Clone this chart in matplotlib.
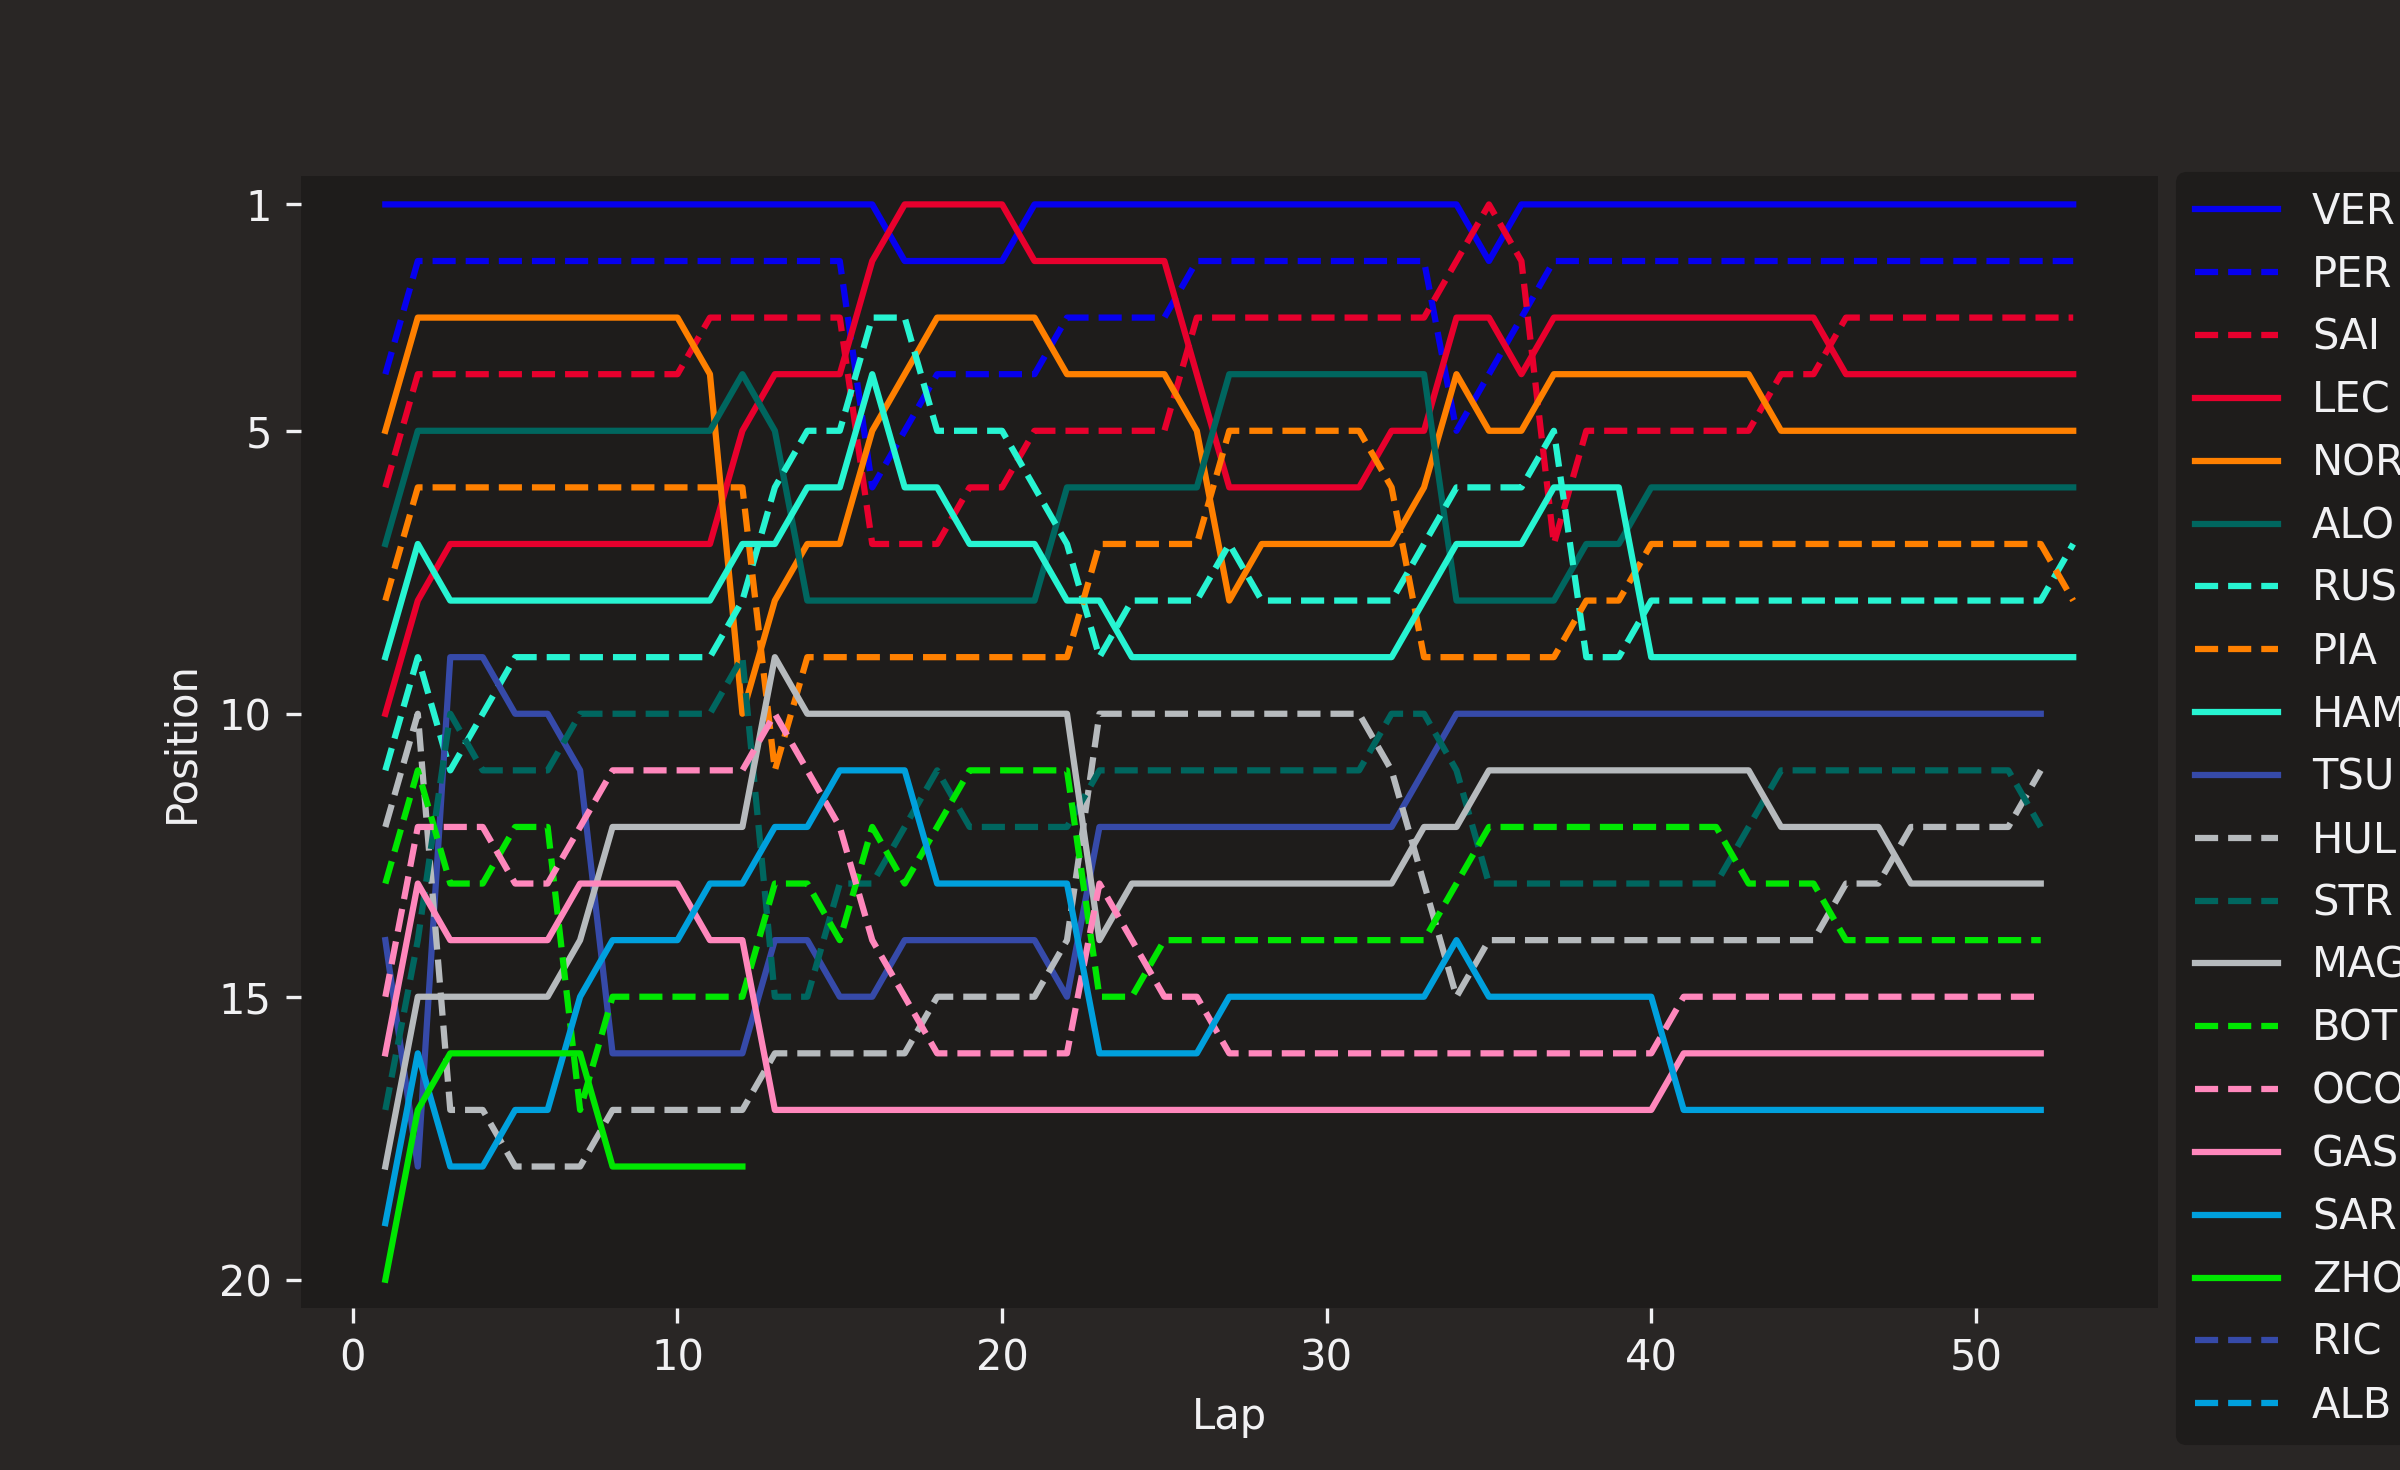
import numpy as np
import matplotlib
matplotlib.use("Agg")
import matplotlib.pyplot as plt

# finishing positions per lap (lap 1 first)
VER = [1, 1, 1, 1, 1, 1, 1, 1, 1, 1,
       1, 1, 1, 1, 1, 1, 2, 2, 2, 2,
       1, 1, 1, 1, 1, 1, 1, 1, 1, 1,
       1, 1, 1, 1, 2, 1, 1, 1, 1, 1,
       1, 1, 1, 1, 1, 1, 1, 1, 1, 1,
       1, 1, 1]
PER = [4, 2, 2, 2, 2, 2, 2, 2, 2, 2,
       2, 2, 2, 2, 2, 6, 5, 4, 4, 4,
       4, 3, 3, 3, 3, 2, 2, 2, 2, 2,
       2, 2, 2, 5, 4, 3, 2, 2, 2, 2,
       2, 2, 2, 2, 2, 2, 2, 2, 2, 2,
       2, 2, 2]
SAI = [6, 4, 4, 4, 4, 4, 4, 4, 4, 4,
       3, 3, 3, 3, 3, 7, 7, 7, 6, 6,
       5, 5, 5, 5, 5, 3, 3, 3, 3, 3,
       3, 3, 3, 2, 1, 2, 7, 5, 5, 5,
       5, 5, 5, 4, 4, 3, 3, 3, 3, 3,
       3, 3, 3]
LEC = [10, 8, 7, 7, 7, 7, 7, 7, 7, 7,
       7, 5, 4, 4, 4, 2, 1, 1, 1, 1,
       2, 2, 2, 2, 2, 4, 6, 6, 6, 6,
       6, 5, 5, 3, 3, 4, 3, 3, 3, 3,
       3, 3, 3, 3, 3, 4, 4, 4, 4, 4,
       4, 4, 4]
NOR = [5, 3, 3, 3, 3, 3, 3, 3, 3, 3,
       4, 10, 8, 7, 7, 5, 4, 3, 3, 3,
       3, 4, 4, 4, 4, 5, 8, 7, 7, 7,
       7, 7, 6, 4, 5, 5, 4, 4, 4, 4,
       4, 4, 4, 5, 5, 5, 5, 5, 5, 5,
       5, 5, 5]
ALO = [7, 5, 5, 5, 5, 5, 5, 5, 5, 5,
       5, 4, 5, 8, 8, 8, 8, 8, 8, 8,
       8, 6, 6, 6, 6, 6, 4, 4, 4, 4,
       4, 4, 4, 8, 8, 8, 8, 7, 7, 6,
       6, 6, 6, 6, 6, 6, 6, 6, 6, 6,
       6, 6, 6]
RUS = [11, 9, 11, 10, 9, 9, 9, 9, 9, 9,
       9, 8, 6, 5, 5, 3, 3, 5, 5, 5,
       6, 7, 9, 8, 8, 8, 7, 8, 8, 8,
       8, 8, 7, 6, 6, 6, 5, 9, 9, 8,
       8, 8, 8, 8, 8, 8, 8, 8, 8, 8,
       8, 8, 7]
PIA = [8, 6, 6, 6, 6, 6, 6, 6, 6, 6,
       6, 6, 11, 9, 9, 9, 9, 9, 9, 9,
       9, 9, 7, 7, 7, 7, 5, 5, 5, 5,
       5, 6, 9, 9, 9, 9, 9, 8, 8, 7,
       7, 7, 7, 7, 7, 7, 7, 7, 7, 7,
       7, 7, 8]
HAM = [9, 7, 8, 8, 8, 8, 8, 8, 8, 8,
       8, 7, 7, 6, 6, 4, 6, 6, 7, 7,
       7, 8, 8, 9, 9, 9, 9, 9, 9, 9,
       9, 9, 8, 7, 7, 7, 6, 6, 6, 9,
       9, 9, 9, 9, 9, 9, 9, 9, 9, 9,
       9, 9, 9]
TSU = [14, 18, 9, 9, 10, 10, 11, 16, 16, 16,
       16, 16, 14, 14, 15, 15, 14, 14, 14, 14,
       14, 15, 12, 12, 12, 12, 12, 12, 12, 12,
       12, 12, 11, 10, 10, 10, 10, 10, 10, 10,
       10, 10, 10, 10, 10, 10, 10, 10, 10, 10,
       10, 10]
HUL = [12, 10, 17, 17, 18, 18, 18, 17, 17, 17,
       17, 17, 16, 16, 16, 16, 16, 15, 15, 15,
       15, 14, 10, 10, 10, 10, 10, 10, 10, 10,
       10, 11, 13, 15, 14, 14, 14, 14, 14, 14,
       14, 14, 14, 14, 14, 13, 13, 12, 12, 12,
       12, 11]
STR = [17, 14, 10, 11, 11, 11, 10, 10, 10, 10,
       10, 9, 15, 15, 13, 13, 12, 11, 12, 12,
       12, 12, 11, 11, 11, 11, 11, 11, 11, 11,
       11, 10, 10, 11, 13, 13, 13, 13, 13, 13,
       13, 13, 12, 11, 11, 11, 11, 11, 11, 11,
       11, 12]
MAG = [18, 15, 15, 15, 15, 15, 14, 12, 12, 12,
       12, 12, 9, 10, 10, 10, 10, 10, 10, 10,
       10, 10, 14, 13, 13, 13, 13, 13, 13, 13,
       13, 13, 12, 12, 11, 11, 11, 11, 11, 11,
       11, 11, 11, 12, 12, 12, 12, 13, 13, 13,
       13, 13]
BOT = [13, 11, 13, 13, 12, 12, 17, 15, 15, 15,
       15, 15, 13, 13, 14, 12, 13, 12, 11, 11,
       11, 11, 15, 15, 14, 14, 14, 14, 14, 14,
       14, 14, 14, 13, 12, 12, 12, 12, 12, 12,
       12, 12, 13, 13, 13, 14, 14, 14, 14, 14,
       14, 14]
OCO = [15, 12, 12, 12, 13, 13, 12, 11, 11, 11,
       11, 11, 10, 11, 12, 14, 15, 16, 16, 16,
       16, 16, 13, 14, 15, 15, 16, 16, 16, 16,
       16, 16, 16, 16, 16, 16, 16, 16, 16, 16,
       15, 15, 15, 15, 15, 15, 15, 15, 15, 15,
       15, 15]
GAS = [16, 13, 14, 14, 14, 14, 13, 13, 13, 13,
       14, 14, 17, 17, 17, 17, 17, 17, 17, 17,
       17, 17, 17, 17, 17, 17, 17, 17, 17, 17,
       17, 17, 17, 17, 17, 17, 17, 17, 17, 17,
       16, 16, 16, 16, 16, 16, 16, 16, 16, 16,
       16, 16]
SAR = [19, 16, 18, 18, 17, 17, 15, 14, 14, 14,
       13, 13, 12, 12, 11, 11, 11, 13, 13, 13,
       13, 13, 16, 16, 16, 16, 15, 15, 15, 15,
       15, 15, 15, 14, 15, 15, 15, 15, 15, 15,
       17, 17, 17, 17, 17, 17, 17, 17, 17, 17,
       17, 17]
ZHO = [20, 17, 16, 16, 16, 16, 16, 18, 18, 18,
       18, 18]
RIC = []
ALB = []

drivers = ['VER', 'PER', 'SAI', 'LEC', 'NOR', 'ALO', 'RUS', 'PIA', 'HAM', 'TSU',
           'HUL', 'STR', 'MAG', 'BOT', 'OCO', 'GAS', 'SAR', 'ZHO', 'RIC', 'ALB']
positions = [VER, PER, SAI, LEC, NOR, ALO, RUS, PIA, HAM, TSU,
             HUL, STR, MAG, BOT, OCO, GAS, SAR, ZHO, RIC, ALB]

team_colors = {
    'VER': '#0600ef', 'PER': '#0600ef',
    'SAI': '#e8002d', 'LEC': '#e8002d',
    'NOR': '#ff8000', 'PIA': '#ff8000',
    'ALO': '#00665f', 'STR': '#00665f',
    'RUS': '#27f4d2', 'HAM': '#27f4d2',
    'TSU': '#364aa9', 'RIC': '#364aa9',
    'HUL': '#b6babd', 'MAG': '#b6babd',
    'BOT': '#00e701', 'ZHO': '#00e701',
    'OCO': '#ff87bc', 'GAS': '#ff87bc',
    'SAR': '#00a0dd', 'ALB': '#00a0dd',
}
dashed = {'PER', 'SAI', 'RUS', 'PIA', 'HUL', 'STR', 'BOT', 'OCO', 'RIC', 'ALB'}

text_color = '#f1f1f3'
plt.rcParams.update({
    'figure.facecolor': '#292625',
    'axes.facecolor': '#1e1c1b',
    'axes.edgecolor': '#2d2928',
    'axes.labelcolor': text_color,
    'xtick.color': text_color,
    'ytick.color': text_color,
    'text.color': text_color,
    'legend.facecolor': '#1e1c1b',
    'legend.edgecolor': '#1e1c1b',
    'legend.framealpha': 1.0,
})

fig = plt.figure(figsize=(8.0, 4.9), dpi=300)
ax = fig.add_axes([0.1254, 0.1102, 0.7736, 0.7700])

for drv, pos in zip(drivers, positions):
    laps = np.arange(1, len(pos) + 1)
    ls = '--' if drv in dashed else '-'
    ax.plot(laps, pos, label=drv, color=team_colors[drv], linestyle=ls)

ax.set_ylim([20.5, 0.5])
ax.set_yticks([1, 5, 10, 15, 20])
ax.set_xlabel('Lap')
ax.set_ylabel('Position')
for s in ax.spines.values():
    s.set_visible(False)

ax.legend(bbox_to_anchor=(1.0, 1.02), loc='upper left')

fig.savefig('out.png', dpi=300)
